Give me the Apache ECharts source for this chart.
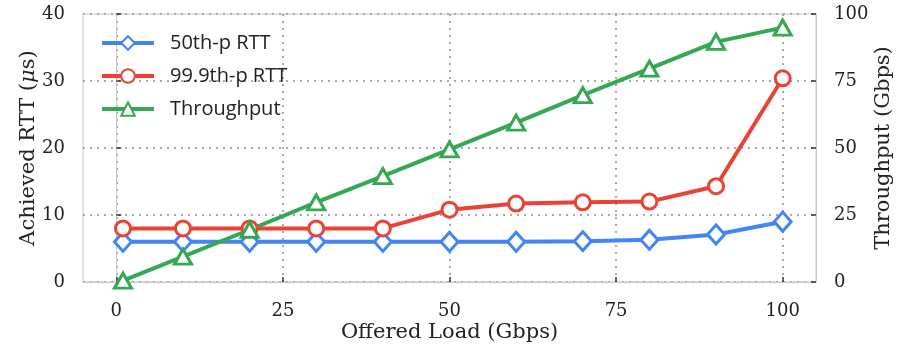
<!DOCTYPE html>
<html><head><meta charset="utf-8">
<script src="https://cdn.jsdelivr.net/npm/echarts@6/dist/echarts.min.js"></script>
<style>html,body{margin:0;padding:0;background:#fff}#c{width:900px;height:352px}</style>
</head><body><div id="c"></div>
<script>
var loads = [1, 10, 20, 30, 40, 50, 60, 70, 80, 90, 100];
var rtt50 = [6, 6, 6, 6, 6, 6, 6, 6.1, 6.3, 7.1, 9];
var rtt999 = [8, 8, 8, 8, 8, 10.8, 11.7, 11.9, 12, 14.3, 30.4];
var throughput = [0.5, 9.5, 19.5, 29.7, 39.5, 49.5, 59.5, 69.7, 79.6, 89.6, 94.9];
var xTicks = [0, 25, 50, 75, 100];
var seriesNames = ['50th-p RTT', '99.9th-p RTT', 'Throughput'];

function pairs(ys){ return loads.map(function(x,i){ return [x, ys[i]]; }); }

var serifFont = 'DejaVu Serif';
var chart = echarts.init(document.getElementById('c'), null, {renderer:'canvas'});
var tickStyle = {show:true, inside:true, length:5, lineStyle:{color:'#333', width:1.5}};
var axisLineStyle = {show:true, lineStyle:{color:'#c8c8c8', width:1}};
var labelStyle = {margin:18, fontFamily:serifFont, fontSize:18, color:'#222'};
var nameStyle = {fontFamily:serifFont, fontSize:21, color:'#222'};
chart.setOption({
  animation:false,
  grid:{left:83, right:84, top:14, bottom:70, show:true, borderColor:'#c8c8c8', borderWidth:1, outerBoundsMode:'none', containLabel:false},
  legend:{
    orient:'vertical', left:95, top:27, itemWidth:52, itemHeight:17, itemGap:11,
    data:seriesNames,
    lineStyle:{width:4},
    textStyle:{fontFamily:'Open Sans', fontSize:20, lineHeight:22, color:'#222', padding:[0,0,0,11]}
  },
  xAxis:{
    type:'value', min:-5, max:105,
    name:'Offered Load (Gbps)', nameLocation:'middle', nameGap:40, nameMoveOverlap:false,
    nameTextStyle:nameStyle,
    axisLine:axisLineStyle,
    axisTick:Object.assign({customValues:xTicks}, tickStyle),
    axisLabel:Object.assign({customValues:xTicks}, labelStyle, {margin:20}),
    splitLine:{show:true, lineStyle:{type:[2,5], color:'#aaa', width:2}}
  },
  yAxis:[{
    type:'value', min:0, max:40, interval:10,
    name:'Achieved RTT ({i|\u03bc}s)', nameLocation:'middle', nameGap:44, nameRotate:90, nameMoveOverlap:false,
    nameTextStyle:Object.assign({rich:{i:{fontFamily:serifFont, fontSize:21, fontStyle:'italic', color:'#222'}}}, nameStyle),
    axisLine:axisLineStyle, axisTick:tickStyle,
    axisLabel:labelStyle,
    splitLine:{show:true, lineStyle:{type:[2,5], color:'#aaa', width:2}}
  },{
    type:'value', min:0, max:100, interval:25, position:'right',
    name:'Throughput (Gbps)', nameLocation:'middle', nameGap:57, nameRotate:90, nameMoveOverlap:false,
    nameTextStyle:nameStyle,
    axisLine:axisLineStyle, axisTick:tickStyle,
    axisLabel:labelStyle,
    splitLine:{show:false}
  }],
  series:[{
    name:seriesNames[0], type:'line', yAxisIndex:0, data:pairs(rtt50),
    symbol:'diamond', symbolSize:[17,19],
    lineStyle:{color:'#4285F4', width:4},
    itemStyle:{color:'#fff', borderColor:'#4285F4', borderWidth:3}, z:3
  },{
    name:seriesNames[1], type:'line', yAxisIndex:0, data:pairs(rtt999),
    symbol:'circle', symbolSize:15,
    lineStyle:{color:'#EA4335', width:4},
    itemStyle:{color:'#fff', borderColor:'#EA4335', borderWidth:3}, z:3
  },{
    name:seriesNames[2], type:'line', yAxisIndex:1, data:pairs(throughput),
    symbol:'triangle', symbolSize:[17,15],
    lineStyle:{color:'#34A853', width:4},
    itemStyle:{color:'#fff', borderColor:'#34A853', borderWidth:3}, z:3
  }]
});
</script></body></html>
